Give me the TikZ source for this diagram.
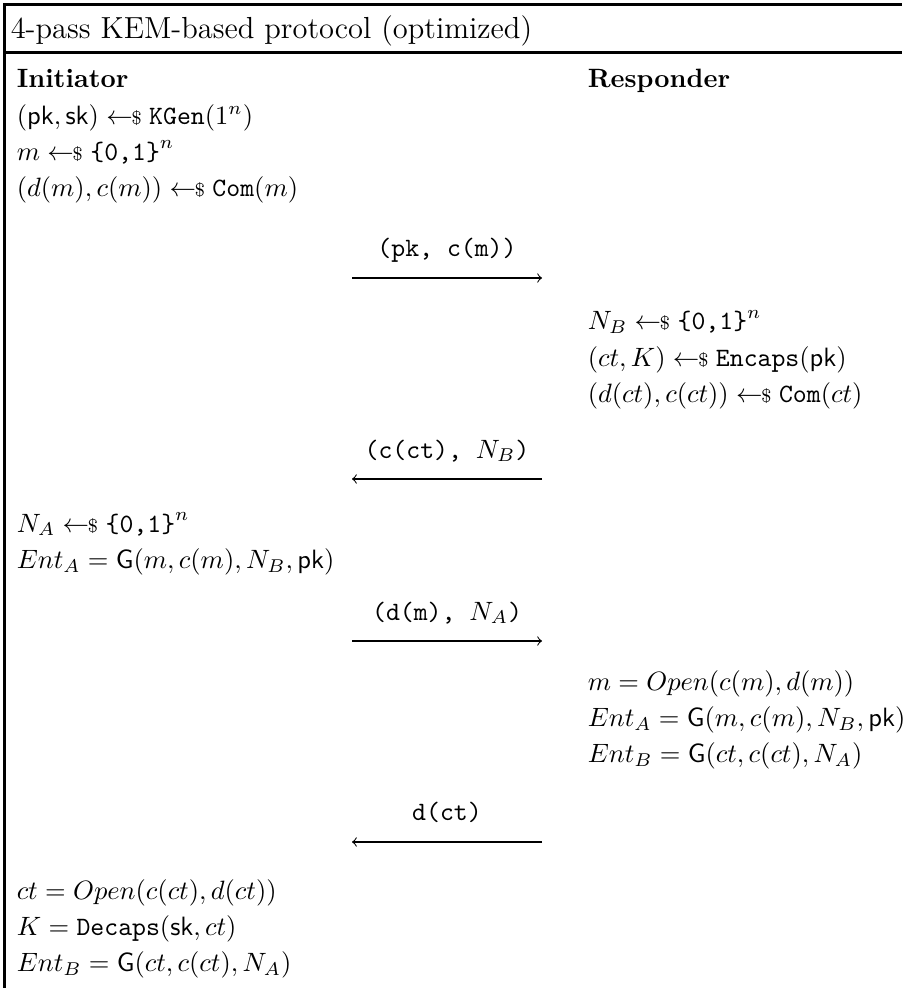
\documentclass[tikz,border=0pt]{standalone}
\usepackage{amsmath}
\usepackage{amssymb}
\usepackage{fontspec}
\usepackage{tikz}
\usetikzlibrary{arrows}
\usetikzlibrary{positioning}
\newcommand{\smp}{\mathrel{\leftarrow\!\!\text{\scriptsize\$}}}

\begin{document}
\begin{tikzpicture}[x=0.3774pt,y=-0.3774pt,node distance=13.6pt,>=to,semithick]
	\tikzstyle{txt}=[anchor=base west, inner sep=0pt]
	\tikzstyle{msg}=[anchor=base, inner sep=0pt, font=\ttfamily]
	\tikzstyle{pass}=[->, line width=0.4pt]
	\tikzstyle{frame}=[line width=1.13pt]
	\useasboundingbox (0,0) rectangle (902,988);
	\draw[frame] (4.5,988) -- (4.5,4.5) -- (902,4.5);
	\draw[frame] (4.5,53) -- (902,53);
	\node[txt, font=\fontsize{11.5}{14}\selectfont] (title) at (10,39) {4-pass KEM-based protocol (optimized)};
	\node[txt] (init) at (16,88) {\textbf{Initiator}};
	\node[txt] (resp) at (587,88) {\textbf{Responder}};
	\node[txt] (i1) [below=of init.base west, anchor=base west] {$(\mathsf{pk},\mathsf{sk}) \smp \mathtt{KGen}(1^n)$};
	\node[txt] (i2) [below=of i1.base west, anchor=base west] {$m \smp \texttt{\{0,1\}}^n$};
	\node[txt] (i3) [below=of i2.base west, anchor=base west] {$(d(m),c(m)) \smp \mathtt{Com}(m)$};
	\node[msg] (m1) at (447,257) {(pk, c(m))};
	\coordinate (m1l) at (352,278);
	\coordinate (m1r) at (542,278);
	\node[txt] (r1) at (587,330) {$N_B \smp \texttt{\{0,1\}}^n$};
	\node[txt] (r2) [below=of r1.base west, anchor=base west] {$(ct,K) \smp \mathtt{Encaps}(\mathsf{pk})$};
	\node[txt] (r3) [below=of r2.base west, anchor=base west] {$(d(ct),c(ct)) \smp \mathtt{Com}(ct)$};
	\node[msg] (m2) at (447,458) {(c(ct), $N_B$)};
	\coordinate (m2l) at (352,479);
	\coordinate (m2r) at (542,479);
	\node[txt] (i4) at (16,532) {$N_A \smp \texttt{\{0,1\}}^n$};
	\node[txt] (i5) [below=of i4.base west, anchor=base west] {$Ent_A = \mathsf{G}(m,c(m),N_B,\mathsf{pk})$};
	\node[msg] (m3) at (447,620) {(d(m), $N_A$)};
	\coordinate (m3l) at (352,641);
	\coordinate (m3r) at (542,641);
	\node[txt] (r4) at (587,690) {$m = Open(c(m),d(m))$};
	\node[txt] (r5) [below=of r4.base west, anchor=base west] {$Ent_A = \mathsf{G}(m,c(m),N_B,\mathsf{pk})$};
	\node[txt] (r6) [below=of r5.base west, anchor=base west] {$Ent_B = \mathsf{G}(ct,c(ct),N_A)$};
	\node[msg] (m4) at (447,820) {d(ct)};
	\coordinate (m4l) at (352,842);
	\coordinate (m4r) at (542,842);
	\node[txt] (i6) at (16,899) {$ct = Open(c(ct),d(ct))$};
	\node[txt] (i7) [below=of i6.base west, anchor=base west] {$K = \mathtt{Decaps}(\mathsf{sk},ct)$};
	\node[txt] (i8) [below=of i7.base west, anchor=base west] {$Ent_B = \mathsf{G}(ct,c(ct),N_A)$};
	\draw[pass] (m1l) -- (m1r);
	\draw[pass] (m2r) -- (m2l);
	\draw[pass] (m3l) -- (m3r);
	\draw[pass] (m4r) -- (m4l);
\end{tikzpicture}
\end{document}
